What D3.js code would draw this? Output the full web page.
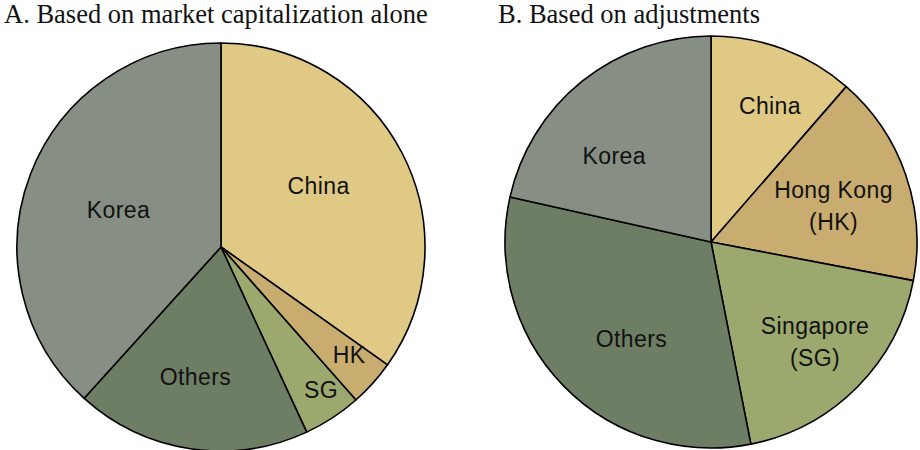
<!DOCTYPE html>
<html>
<head>
<meta charset="utf-8">
<script src="https://cdn.jsdelivr.net/npm/d3@7"></script>
<style>
  body { margin: 0; background: #fff; }
  svg { display: block; }
</style>
</head>
<body>
<script>
// slice names, shared by both pies (clockwise from 12 o'clock)
var categories = ["China", "Hong Kong", "Singapore", "Others", "Korea"];

// panel A: market capitalization alone (percent)
var valuesA = [34.8, 3.7, 4.6, 18.6, 38.3];
var labelsA = [["China"], ["HK"], ["SG"], ["Others"], ["Korea"]];

// panel B: based on adjustments (percent)
var valuesB = [11.4, 16.6, 18.9, 31.6, 21.5];
var labelsB = [["China"], ["Hong Kong", "(HK)"], ["Singapore", "(SG)"], ["Others"], ["Korea"]];

var titles = ["A. Based on market capitalization alone", "B. Based on adjustments"];

var colors = d3.scaleOrdinal()
  .domain(categories)
  .range(["#dfc985", "#c9ac6f", "#9ba86e", "#6e7e64", "#878e84"]);

var W = 920, H = 450;
var svg = d3.select("body").append("svg")
  .attr("width", W)
  .attr("height", H);

// label placement: angle nudge from slice middle (deg) and distance as fraction of radius
var panels = [
  { title: titles[0], tx: 4, cx: 221, cy: 247, r: 204, values: valuesA, labels: labelsA,
    nudge: [-4.8, -1.9, -1.9, 2.5, -1.1], lr: [0.565, 0.82, 0.855, 0.65, 0.535] },
  { title: titles[1], tx: 498, cx: 711, cy: 242, r: 206, values: valuesB, labels: labelsB,
    nudge: [2.9, 2.7, -1, -6.4, -9.5], lr: [0.72, 0.62, 0.70, 0.61, 0.63] }
];

var pie = d3.pie().sort(null).value(function(d) { return d; });

panels.forEach(function(p) {
  svg.append("text")
    .attr("x", p.tx)
    .attr("y", 23)
    .style("font-family", "'Liberation Serif', 'Times New Roman', serif")
    .style("font-size", "26.5px")
    .style("fill", "#111")
    .text(p.title);

  var g = svg.append("g").attr("transform", "translate(" + p.cx + "," + p.cy + ")");
  var arcs = pie(p.values);
  var arc = d3.arc().innerRadius(0).outerRadius(p.r);

  g.selectAll("path")
    .data(arcs)
    .enter()
    .append("path")
    .attr("d", arc)
    .style("fill", function(d, i) { return colors(categories[i]); })
    .style("stroke", "#000")
    .style("stroke-width", 1.6)
    .style("stroke-linejoin", "round");

  g.selectAll("text.lbl")
    .data(arcs)
    .enter()
    .append("text")
    .attr("class", "lbl")
    .each(function(d, i) {
      var a = (d.startAngle + d.endAngle) / 2 + p.nudge[i] * Math.PI / 180;
      var lr = p.lr[i] * p.r;
      var x = lr * Math.sin(a), y = -lr * Math.cos(a);
      var lines = p.labels[i];
      var t = d3.select(this)
        .attr("text-anchor", "middle")
        .style("font-family", "'Liberation Sans', Arial, sans-serif")
        .style("font-size", "23px")
        .style("letter-spacing", "0.4px")
        .style("fill", "#111");
      lines.forEach(function(s, k) {
        t.append("tspan")
          .attr("x", x)
          .attr("y", y + 8 + (k - (lines.length - 1) / 2) * 32)
          .text(s);
      });
    });
});
</script>
</body>
</html>
